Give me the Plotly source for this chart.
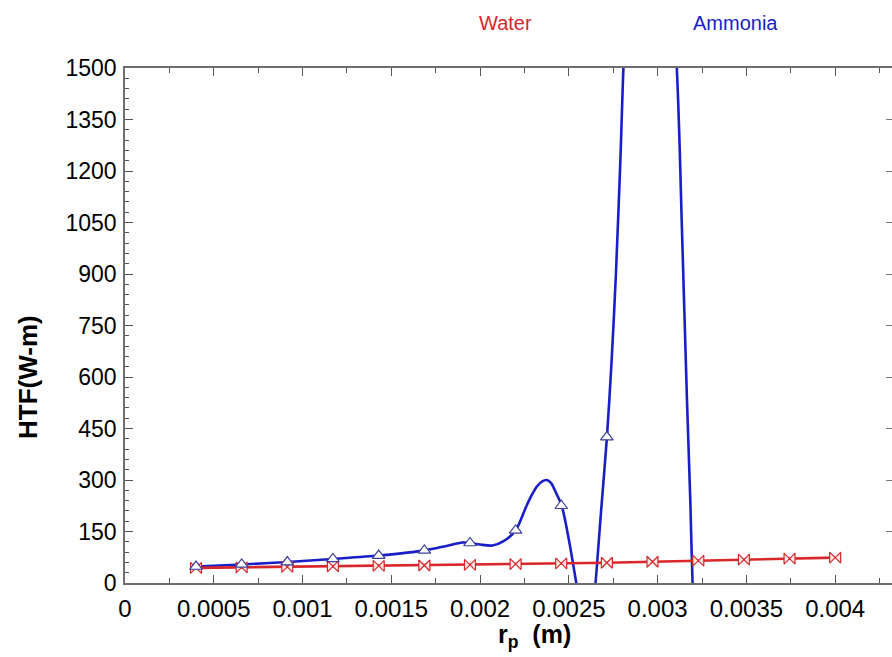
import plotly.graph_objects as go

# ---------------- data ----------------
# node positions (m) shared by both series
r_nodes = [0.000400, 0.000657, 0.000914, 0.001171, 0.001429, 0.001686, 0.001943,
           0.002200, 0.002457, 0.002714, 0.002971, 0.003229, 0.003486, 0.003743, 0.004000]

water_htf = [44, 45.5, 47, 48.5, 50, 51, 53, 55, 57, 59, 62, 65, 68, 71, 74]

# ammonia symbols visible inside the frame
ammonia_r = [0.000400, 0.000657, 0.000914, 0.001171, 0.001429, 0.001686, 0.001943,
             0.002200, 0.002457, 0.002714]
ammonia_htf = [48, 54, 61, 70, 80, 95, 116.5, 153, 225, 425]

# ammonia fitted curve
ammonia_curve_r = [0.000403, 0.000657, 0.000917, 0.00117, 0.00143, 0.00169, 0.00181,
                   0.00190, 0.00194, 0.00200, 0.00207, 0.00213, 0.00220, 0.00226,
                   0.00229, 0.00232, 0.00235, 0.002375, 0.00240, 0.00243, 0.00246,
                   0.00250, 0.00254, 0.00256, 0.00258, 0.00260, 0.00262, 0.002635,
                   0.00265, 0.00268, 0.002714, 0.00274, 0.002765, 0.00279, 0.002815,
                   0.00295, 0.003108, 0.003137, 0.003165, 0.003184, 0.003197, 0.00323]
ammonia_curve_htf = [48, 54, 61, 70, 80, 95, 108, 118, 117, 112, 109, 121, 153, 223,
                     255, 281, 296, 300, 291, 260, 225,
                     126, 5, -60, -110, -135, -120, -70,
                     0, 200, 422, 640, 900, 1230, 1600,
                     2800, 1500, 1030, 537, 240, -5, -400]

x_tickvals = [0, 0.0005, 0.001, 0.0015, 0.002, 0.0025, 0.003, 0.0035, 0.004]
x_ticktext = ["0", "0.0005", "0.001", "0.0015", "0.002", "0.0025", "0.003", "0.0035", "0.004"]
y_tickvals = [0, 150, 300, 450, 600, 750, 900, 1050, 1200, 1350, 1500]

RED = "#d8262a"
BLUE = "#1a1ec8"

fig = go.Figure()

fig.add_trace(go.Scatter(
    x=ammonia_curve_r, y=ammonia_curve_htf, mode="lines",
    line=dict(color=BLUE, width=2.6, shape="spline", smoothing=0.8),
    showlegend=False, hoverinfo="skip"))

fig.add_trace(go.Scatter(
    x=r_nodes, y=water_htf, mode="lines+markers",
    line=dict(color=RED, width=2.6),
    marker=dict(symbol="bowtie", size=11, color="#fbe9ea",
                line=dict(color=RED, width=1.2)),
    showlegend=False))

fig.add_trace(go.Scatter(
    x=ammonia_r, y=ammonia_htf, mode="markers",
    marker=dict(symbol="triangle-up", size=11, color="white",
                line=dict(color="#3a3f9a", width=1.2)),
    showlegend=False))

# invisible helper so the right-hand tick axis is drawn
fig.add_trace(go.Scatter(x=[0], y=[0], yaxis="y2", mode="markers",
                         marker=dict(opacity=0), showlegend=False, hoverinfo="skip"))

fig.update_xaxes(range=[0, 0.00432], tickvals=x_tickvals, ticktext=x_ticktext,
                 showline=True, linecolor="#6e6e6e", linewidth=1.5, mirror="ticks",
                 ticks="inside", tickcolor="#555555", ticklen=8, tickwidth=1.2,
                 minor=dict(dtick=0.00025, ticklen=5, tickcolor="#555555", ticks="inside"),
                 tickfont=dict(family="Liberation Sans, Arial", size=24, color="black"),
                 ticklabelstandoff=3, showgrid=False, zeroline=False)

fig.update_layout(
    yaxis=dict(range=[0, 1500], tickvals=y_tickvals,
               showline=True, linecolor="#6e6e6e", linewidth=1.5, mirror=False,
               ticks="inside", tickcolor="#555555", ticklen=8, tickwidth=1.2,
               minor=dict(dtick=30, ticklen=4, tickcolor="#555555", ticks="inside"),
               tickfont=dict(family="Liberation Sans, Arial", size=23, color="black"),
               ticklabelstandoff=2, showgrid=False, zeroline=False),
    yaxis2=dict(range=[0, 1500], tickvals=y_tickvals, overlaying="y", side="right",
                showline=False, showticklabels=False, showgrid=False, zeroline=False,
                ticks="inside", tickcolor="#777777", ticklen=6, tickwidth=1.2),
)

L, R, T, B = 125, 0, 68, 74
W, H = 892, 657
pw, ph = W - L - R, H - T - B

def px_x(p):
    return (p - L) / pw

def px_y(p):
    return (H - B - p) / ph

fig.update_layout(
    width=W, height=H,
    margin=dict(l=L, r=R, t=T, b=B),
    plot_bgcolor="white", paper_bgcolor="white",
    font=dict(family="Liberation Sans, Arial", color="black"),
    annotations=[
        dict(text="<b>HTF(W-m)</b>", xref="paper", yref="paper",
             x=px_x(28), y=px_y(377), textangle=-90, showarrow=False,
             font=dict(size=26, color="black"), xanchor="center", yanchor="middle"),
        dict(text="<b>r<sub>p</sub>\u00a0\u00a0(m)</b>", xref="paper", yref="paper",
             x=px_x(534), y=px_y(636), showarrow=False,
             font=dict(size=25, color="black"), xanchor="center", yanchor="middle"),
        dict(text="Water", xref="paper", yref="paper",
             x=px_x(505), y=px_y(23), showarrow=False,
             font=dict(size=20, color=RED), xanchor="center", yanchor="middle"),
        dict(text="Ammonia", xref="paper", yref="paper",
             x=px_x(735), y=px_y(23), showarrow=False,
             font=dict(size=20, color=BLUE), xanchor="center", yanchor="middle"),
    ],
)

fig.write_html("out.html")
